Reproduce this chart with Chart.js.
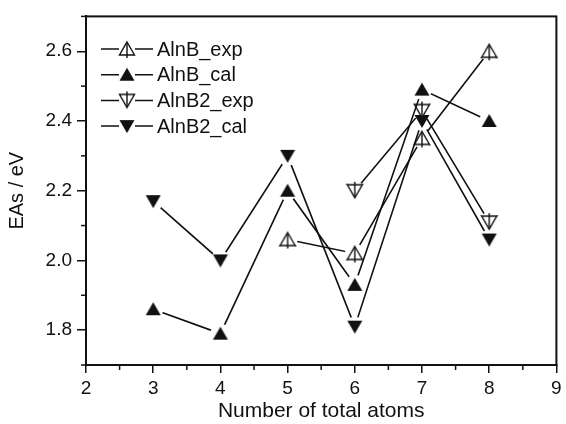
<!DOCTYPE html>
<html>
<head>
<meta charset="utf-8">
<script src="https://cdn.jsdelivr.net/npm/chart.js@4/dist/chart.umd.min.js"></script>
<style>
  html, body { margin: 0; padding: 0; background: #ffffff; }
  canvas { display: block; }
</style>
</head>
<body>
<canvas id="grafica" width="566" height="424"></canvas>
<script>
// ---- datos ----
const atomos = [3, 4, 5, 6, 7, 8];
const alnBExp  = [null, null, 2.06, 2.02, 2.35, 2.60];
const alnBCal  = [1.86, 1.79, 2.20, 1.93, 2.49, 2.40];
const alnB2Exp = [null, null, null, 2.20, 2.43, 2.11];
const alnB2Cal = [2.17, 2.00, 2.30, 1.81, 2.40, 2.06];

const etiquetas = ['AlnB_exp', 'AlnB_cal', 'AlnB2_exp', 'AlnB2_cal'];
const ticksX = [2, 3, 4, 5, 6, 7, 8, 9];
const ticksY = [1.8, 2.0, 2.2, 2.4, 2.6];

const FUENTE = "'Liberation Sans', Arial, Helvetica, sans-serif";
const NEGRO = '#111111';

/**
 * Crea un símbolo tipo Origin: triángulo arriba/abajo, lleno o hueco con línea vertical.
 */
function crearSimbolo(tipo) {
  const c = document.createElement('canvas');
  c.width = 20; c.height = 20;
  const ctx = c.getContext('2d');
  ctx.strokeStyle = NEGRO;
  ctx.fillStyle = NEGRO;
  ctx.lineWidth = 1.4;
  ctx.beginPath();
  if (tipo.startsWith('arriba')) {
    ctx.moveTo(10, 3); ctx.lineTo(17.5, 16); ctx.lineTo(2.5, 16);
  } else {
    ctx.moveTo(2.5, 4); ctx.lineTo(17.5, 4); ctx.lineTo(10, 17);
  }
  ctx.closePath();
  if (tipo.endsWith('Lleno')) {
    ctx.fill();
  } else {
    ctx.fillStyle = '#ffffff';
    ctx.fill();
    ctx.stroke();
    ctx.beginPath();
    if (tipo.startsWith('arriba')) {
      ctx.moveTo(10, 4); ctx.lineTo(10, 19);
    } else {
      ctx.moveTo(10, 1); ctx.lineTo(10, 16);
    }
    ctx.stroke();
  }
  return c;
}

const simbolos = [
  crearSimbolo('arribaHueco'),
  crearSimbolo('arribaLleno'),
  crearSimbolo('abajoHueco'),
  crearSimbolo('abajoLleno')
];

function puntos(valores) {
  return atomos.map((x, i) => ({ x: x, y: valores[i] }));
}

const series = [alnBExp, alnBCal, alnB2Exp, alnB2Cal];

// Recorta la línea alrededor de cada símbolo (hueco como en Origin)
const pluginHuecos = {
  id: 'huecos',
  beforeDatasetDraw(chart, args) {
    const ctx = chart.ctx;
    const a = chart.chartArea;
    ctx.save();
    ctx.beginPath();
    ctx.rect(a.left - 20, a.top - 20, a.right - a.left + 40, a.bottom - a.top + 40);
    args.meta.data.forEach(p => {
      if (p.skip) return;
      ctx.moveTo(p.x + 10, p.y);
      ctx.arc(p.x, p.y, 10, 0, Math.PI * 2);
    });
    ctx.clip('evenodd');
  },
  afterDatasetDraw(chart, args) {
    const ctx = chart.ctx;
    ctx.restore();
    args.meta.data.forEach(p => {
      if (!p.skip) p.draw(ctx, chart.chartArea);
    });
  }
};

// Marco, marcas menores y leyenda
const pluginMarco = {
  id: 'marco',
  afterDraw(chart) {
    const ctx = chart.ctx;
    const a = chart.chartArea;
    ctx.save();
    ctx.strokeStyle = NEGRO;
    ctx.lineWidth = 2;
    ctx.strokeRect(a.left, a.top, a.right - a.left, a.bottom - a.top);

    // marcas menores
    ctx.lineWidth = 1.5;
    const sx = chart.scales.x, sy = chart.scales.y;
    for (let i = 0; i < ticksX.length - 1; i++) {
      const px = sx.getPixelForValue((ticksX[i] + ticksX[i + 1]) / 2);
      ctx.beginPath(); ctx.moveTo(px, a.bottom); ctx.lineTo(px, a.bottom + 5); ctx.stroke();
    }
    const paso = ticksY[1] - ticksY[0];
    for (let v = ticksY[0] - paso / 2; v <= sy.max + 1e-9; v += paso) {
      const py = sy.getPixelForValue(v);
      ctx.beginPath(); ctx.moveTo(a.left, py); ctx.lineTo(a.left - 5, py); ctx.stroke();
    }

    // leyenda
    ctx.font = '20px ' + FUENTE;
    ctx.textBaseline = 'middle';
    ctx.fillStyle = NEGRO;
    ctx.lineWidth = 1.5;
    etiquetas.forEach((txt, i) => {
      const y = 49 + i * 25.7;
      ctx.beginPath();
      ctx.moveTo(101, y); ctx.lineTo(119, y);
      ctx.moveTo(135, y); ctx.lineTo(153, y);
      ctx.stroke();
      ctx.drawImage(simbolos[i], 127 - 10, y - 10);
      ctx.fillText(txt, 157, y + 1);
    });
    ctx.restore();
  }
};

new Chart(document.getElementById('grafica'), {
  type: 'line',
  data: {
    datasets: series.map((valores, i) => ({
      label: etiquetas[i],
      data: puntos(valores),
      borderColor: NEGRO,
      borderWidth: 1.6,
      pointStyle: simbolos[i],
      pointRadius: 8,
      tension: 0,
      fill: false
    }))
  },
  options: {
    responsive: false,
    animation: false,
    layout: { padding: { top: 13, right: 5, left: 0, bottom: 0 } },
    plugins: {
      legend: { display: false },
      tooltip: { enabled: false }
    },
    scales: {
      x: {
        type: 'linear',
        min: 2, max: 9,
        afterBuildTicks: s => { s.ticks = ticksX.map(v => ({ value: v })); },
        afterFit: s => { s.height = 59; },
        border: { color: NEGRO, width: 2 },
        grid: { drawOnChartArea: false, color: NEGRO, tickLength: 8, lineWidth: 1.5 },
        ticks: { color: NEGRO, font: { family: FUENTE, size: 19 }, padding: 4, maxRotation: 0 },
        title: { display: true, text: 'Number of total atoms', color: NEGRO, font: { family: FUENTE, size: 21 }, padding: { top: 0, bottom: 0 } }
      },
      y: {
        min: 1.7, max: 2.7,
        afterBuildTicks: s => { s.ticks = ticksY.map(v => ({ value: v })); },
        afterFit: s => { s.width = 86; },
        border: { color: NEGRO, width: 2 },
        grid: { drawOnChartArea: false, color: NEGRO, tickLength: 9, lineWidth: 1.5 },
        ticks: { color: NEGRO, font: { family: FUENTE, size: 19 }, padding: 5, callback: v => Number(v).toFixed(1) },
        title: { display: true, text: 'EAs / eV', color: NEGRO, font: { family: FUENTE, size: 20 }, padding: { top: 5, bottom: 0 } }
      }
    }
  },
  plugins: [pluginHuecos, pluginMarco]
});
</script>
</body>
</html>
